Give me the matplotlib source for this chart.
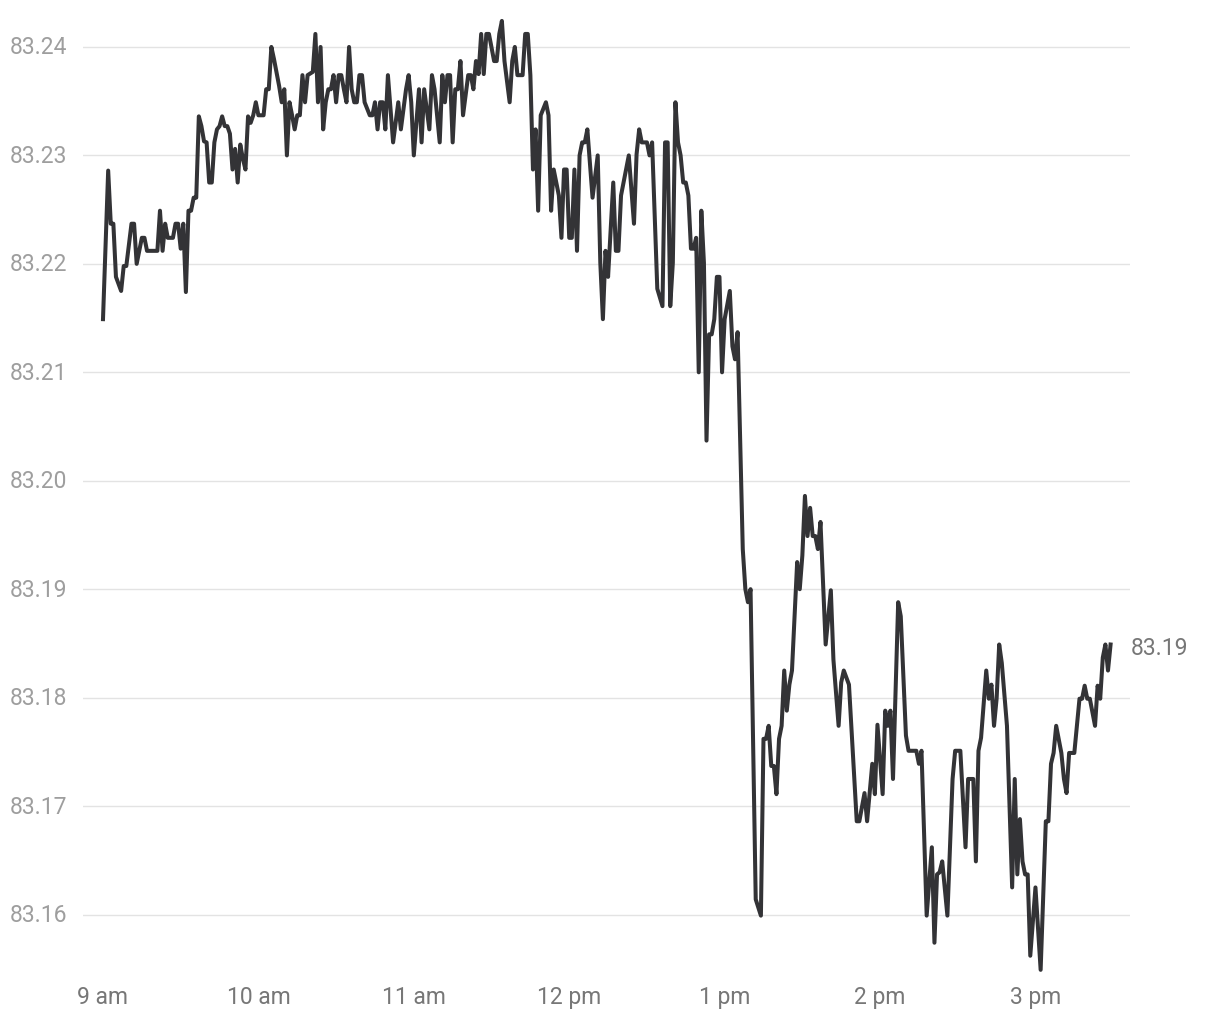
import matplotlib
matplotlib.use("Agg")
import matplotlib.pyplot as plt
from matplotlib.transforms import blended_transform_factory

# minutes after 9:00 am, and price
minutes = [0, 2, 3, 4, 5, 7, 8, 9, 11, 12, 13, 15, 16, 17, 21, 22, 23, 24, 25, 27,
           28, 29, 30, 31, 32, 33, 34, 35, 36, 37, 38, 39, 40, 41, 42, 43, 44, 45, 46, 47,
           48, 49, 50, 51, 52, 53, 54, 55, 56, 57, 58, 59, 60, 62, 63, 64, 65, 66, 68, 69,
           70, 71, 72, 73, 74, 75, 76, 77, 78, 79, 81, 82, 83, 84, 85, 86, 87, 88, 89, 90,
           91, 92, 93, 94, 95, 96, 97, 98, 99, 100, 101, 102, 103, 104, 105, 106, 107, 108, 109, 110,
           112, 114, 115, 117, 118, 119, 120, 122, 123, 124, 126, 127, 128, 130, 131, 132, 133, 134, 135, 136,
           137, 138, 139, 141, 142, 143, 144, 145, 146, 147, 148, 149, 151, 152, 153, 154, 155, 157, 158, 159,
           160, 162, 163, 164, 165, 166, 167, 168, 169, 171, 172, 173, 174, 175, 176, 177, 178, 179, 180, 181,
           182, 183, 184, 185, 186, 187, 189, 191, 192, 193, 194, 195, 197, 198, 199, 200, 203, 205, 206, 207,
           208, 210, 211, 212, 214, 216, 217, 218, 219, 220, 221, 222, 223, 224, 225, 226, 227, 228, 229, 230,
           231, 232, 233, 234, 235, 236, 237, 238, 239, 240, 242, 243, 244, 245, 247, 248, 249, 250, 252, 254,
           255, 256, 257, 258, 259, 260, 261, 262, 263, 264, 265, 266, 268, 269, 270, 271, 272, 273, 274, 275,
           276, 277, 279, 281, 282, 284, 285, 286, 288, 291, 292, 294, 295, 297, 298, 299, 301, 302, 303, 304,
           305, 307, 308, 310, 311, 314, 315, 316, 318, 320, 321, 322, 323, 324, 326, 328, 329, 331, 333, 334,
           336, 337, 338, 339, 341, 342, 343, 344, 345, 346, 347, 349, 350, 351, 352, 353, 354, 355, 356, 357,
           358, 360, 362, 364, 365, 366, 367, 368, 370, 371, 372, 373, 375, 377, 378, 379, 380, 381, 383, 384,
           385, 386, 387, 388, 389]

prices = [83.2149, 83.2286, 83.2237, 83.2237, 83.2188, 83.2175, 83.2198, 83.2198, 83.2237, 83.2237,
          83.2200, 83.2224, 83.2224, 83.2212, 83.2212, 83.2249, 83.2212, 83.2237, 83.2224, 83.2224,
          83.2237, 83.2237, 83.2214, 83.2237, 83.2174, 83.2249, 83.2249, 83.2261, 83.2261, 83.2336,
          83.2327, 83.2313, 83.2312, 83.2275, 83.2275, 83.2312, 83.2324, 83.2327, 83.2336, 83.2327,
          83.2327, 83.2320, 83.2287, 83.2306, 83.2275, 83.2310, 83.2297, 83.2287, 83.2336, 83.2330,
          83.2337, 83.2349, 83.2337, 83.2337, 83.2361, 83.2361, 83.2400, 83.2389, 83.2364, 83.2349,
          83.2361, 83.2300, 83.2349, 83.2337, 83.2324, 83.2337, 83.2337, 83.2374, 83.2349, 83.2374,
          83.2377, 83.2412, 83.2349, 83.2400, 83.2324, 83.2349, 83.2361, 83.2361, 83.2374, 83.2349,
          83.2374, 83.2374, 83.2361, 83.2349, 83.2400, 83.2361, 83.2349, 83.2349, 83.2374, 83.2374,
          83.2349, 83.2343, 83.2337, 83.2337, 83.2349, 83.2324, 83.2349, 83.2349, 83.2324, 83.2374,
          83.2312, 83.2349, 83.2324, 83.2361, 83.2374, 83.2349, 83.2300, 83.2361, 83.2312, 83.2361,
          83.2324, 83.2374, 83.2361, 83.2312, 83.2374, 83.2349, 83.2374, 83.2374, 83.2312, 83.2361,
          83.2361, 83.2387, 83.2337, 83.2374, 83.2374, 83.2361, 83.2387, 83.2375, 83.2412, 83.2375,
          83.2412, 83.2412, 83.2387, 83.2387, 83.2412, 83.2424, 83.2387, 83.2349, 83.2387, 83.2400,
          83.2374, 83.2374, 83.2412, 83.2412, 83.2374, 83.2287, 83.2324, 83.2249, 83.2337, 83.2349,
          83.2337, 83.2249, 83.2287, 83.2275, 83.2263, 83.2224, 83.2287, 83.2287, 83.2224, 83.2224,
          83.2287, 83.2212, 83.2300, 83.2312, 83.2312, 83.2324, 83.2261, 83.2300, 83.2201, 83.2149,
          83.2212, 83.2188, 83.2275, 83.2212, 83.2212, 83.2263, 83.2300, 83.2237, 83.2301, 83.2324,
          83.2312, 83.2312, 83.2300, 83.2312, 83.2177, 83.2161, 83.2312, 83.2312, 83.2161, 83.2201,
          83.2349, 83.2312, 83.2300, 83.2275, 83.2275, 83.2263, 83.2214, 83.2214, 83.2224, 83.2100,
          83.2249, 83.2201, 83.2037, 83.2135, 83.2135, 83.2149, 83.2188, 83.2188, 83.2100, 83.2149,
          83.2175, 83.2124, 83.2112, 83.2137, 83.1937, 83.1900, 83.1888, 83.1900, 83.1614, 83.1599,
          83.1762, 83.1762, 83.1774, 83.1737, 83.1737, 83.1711, 83.1762, 83.1774, 83.1825, 83.1788,
          83.1812, 83.1825, 83.1925, 83.1900, 83.1931, 83.1986, 83.1949, 83.1975, 83.1949, 83.1949,
          83.1937, 83.1962, 83.1849, 83.1899, 83.1835, 83.1774, 83.1814, 83.1825, 83.1812, 83.1686,
          83.1686, 83.1712, 83.1686, 83.1739, 83.1711, 83.1775, 83.1711, 83.1788, 83.1774, 83.1788,
          83.1725, 83.1888, 83.1875, 83.1765, 83.1751, 83.1751, 83.1739, 83.1751, 83.1599, 83.1662,
          83.1574, 83.1637, 83.1639, 83.1649, 83.1599, 83.1725, 83.1751, 83.1751, 83.1662, 83.1725,
          83.1725, 83.1649, 83.1751, 83.1763, 83.1825, 83.1799, 83.1812, 83.1774, 83.1799, 83.1849,
          83.1832, 83.1774, 83.1700, 83.1625, 83.1725, 83.1637, 83.1688, 83.1649, 83.1637, 83.1637,
          83.1562, 83.1625, 83.1549, 83.1686, 83.1686, 83.1739, 83.1749, 83.1774, 83.1749, 83.1725,
          83.1712, 83.1749, 83.1749, 83.1799, 83.1799, 83.1811, 83.1799, 83.1799, 83.1774, 83.1811,
          83.1799, 83.1837, 83.1849, 83.1825, 83.1849]

y_ticks = [83.16, 83.17, 83.18, 83.19, 83.20, 83.21, 83.22, 83.23, 83.24]
y_tick_labels = ["83.16", "83.17", "83.18", "83.19", "83.20", "83.21", "83.22", "83.23", "83.24"]
x_ticks = [0, 60, 120, 180, 240, 300, 360]
x_tick_labels = ["9 am", "10 am", "11 am", "12 pm", "1 pm", "2 pm", "3 pm"]
last_label = "83.19"

W, H = 1220, 1020
fig = plt.figure(figsize=(W / 100, H / 100), dpi=100)
fig.patch.set_facecolor("white")
ax = fig.add_axes([83 / W, 1 - 980.6 / H, 1047 / W, 970.6 / H])
ax.set_xlim(-7.72, 396.5)
ax.set_ylim(83.154, 83.2435)
ax.axis("off")

for yt in y_ticks:
    ax.axhline(yt, color="#e3e3e3", lw=1.0, zorder=0)

ax.plot(minutes, prices, color="#333336", lw=2.9, zorder=3)

font = "Roboto"
ty = blended_transform_factory(fig.transFigure, ax.transData)
for yt, lab in zip(y_ticks, y_tick_labels):
    ax.text(10 / W, yt, lab, transform=ty, ha="left", va="center",
            fontsize=16.5, color="#9e9e9e", family=font)

tx = blended_transform_factory(ax.transData, fig.transFigure)
for xt, lab in zip(x_ticks, x_tick_labels):
    ax.text(xt, 1 - 998 / H, lab, transform=tx, ha="center", va="center",
            fontsize=16.5, color="#777777", family=font)

ax.text(1131 / W, prices[-1] - 0.0003, last_label, transform=ty, ha="left", va="center",
        fontsize=16.5, color="#777777", family=font)

fig.savefig("out.png", dpi=100, facecolor="white")
